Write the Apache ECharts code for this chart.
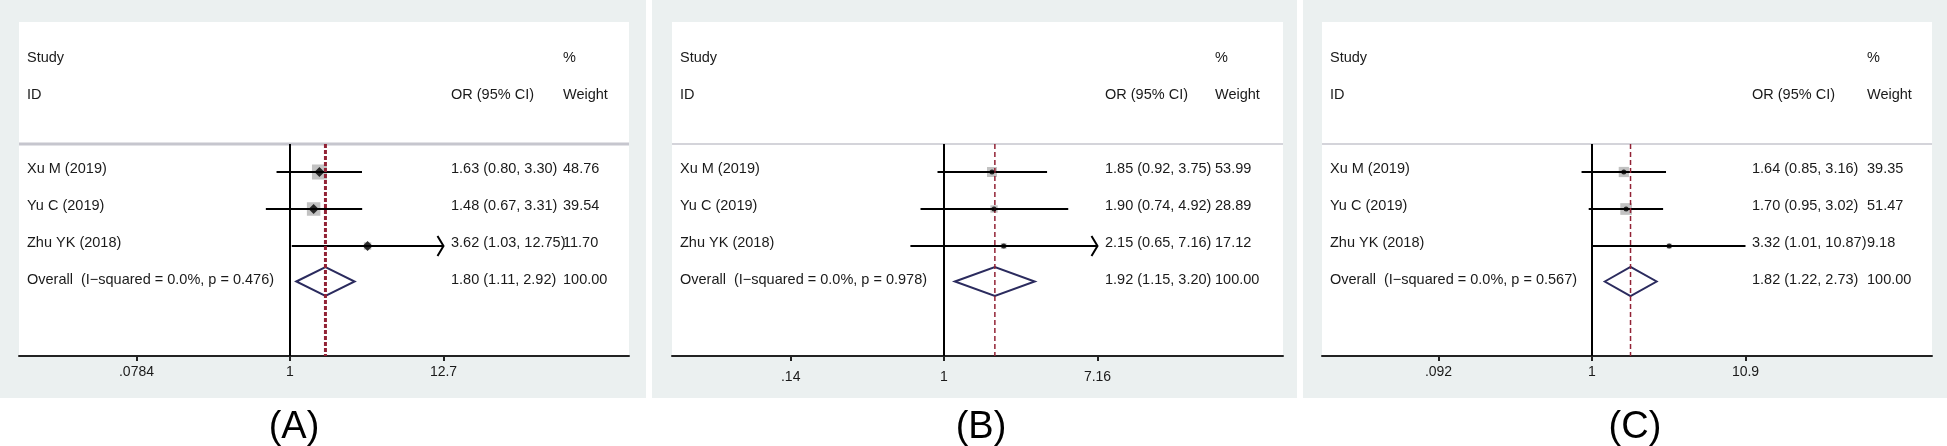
<!DOCTYPE html>
<html>
<head>
<meta charset="utf-8">
<style>
  html, body { margin: 0; padding: 0; background: #fff; }
  #main { width: 1947px; height: 446px; }
</style>
<script src="https://cdn.jsdelivr.net/npm/echarts@6/dist/echarts.min.js"></script>
</head>
<body>
<div id="main"></div>
<script>
// 研究
var studies = ['Xu M (2019)', 'Yu C (2019)', 'Zhu YK (2018)'];
var panelNames = ['(A)', '(B)', '(C)'];

// (A)
var orA = [1.63, 1.48, 3.62];
var lowA = [0.80, 0.67, 1.03];
var highA = [3.30, 3.31, 12.75];
var weightA = [48.76, 39.54, 11.70];
var ticksA = [0.0784, 1, 12.75];
var tickTextA = ['.0784', '1', '12.7'];
var arrowA = [false, false, true];

// (B)
var orB = [1.85, 1.90, 2.15];
var lowB = [0.92, 0.74, 0.65];
var highB = [3.75, 4.92, 7.16];
var weightB = [53.99, 28.89, 17.12];
var ticksB = [0.14, 1, 7.16];
var tickTextB = ['.14', '1', '7.16'];
var arrowB = [false, false, true];

// (C)
var orC = [1.64, 1.70, 3.32];
var lowC = [0.85, 0.95, 1.01];
var highC = [3.16, 3.02, 10.87];
var weightC = [39.35, 51.47, 9.18];
var ticksC = [0.092, 1, 10.87];
var tickTextC = ['.092', '1', '10.9'];
var arrowC = [false, false, false];

// 合并结果
var overallOR = [1.80, 1.92, 1.82];
var overallLow = [1.11, 1.15, 1.22];
var overallHigh = [2.92, 3.20, 2.73];
var iSquared = ['0.0%', '0.0%', '0.0%'];
var pHet = ['0.476', '0.978', '0.567'];

var panelData = [
  {or: orA, low: lowA, high: highA, weight: weightA, ticks: ticksA, tickText: tickTextA, arrow: arrowA},
  {or: orB, low: lowB, high: highB, weight: weightB, ticks: ticksB, tickText: tickTextB, arrow: arrowB},
  {or: orC, low: lowC, high: highC, weight: weightC, ticks: ticksC, tickText: tickTextC, arrow: arrowC}
];

// layout (px)
var layout = [
  {bgLeft: 0, bgRight: 646, left: 19, width: 610, zero: 271, orCol: 432, wCol: 544, sepWidth: 3, refWidth: 3, refDash: [4, 2], marker: 'diamond', markerSize: 10, boxK: 2.15, labelX: 294, labelMargin: 9},
  {bgLeft: 652, bgRight: 1297, left: 672, width: 611, zero: 272, orCol: 433, wCol: 543, sepWidth: 1.5, refWidth: 1.5, refDash: [5, 3], marker: 'circle', markerSize: 5, boxK: 1.36, labelX: 981, labelMargin: 14},
  {bgLeft: 1303, bgRight: 1947, left: 1322, width: 610, zero: 270, orCol: 430, wCol: 545, sepWidth: 1.5, refWidth: 1.5, refDash: [5, 3], marker: 'circle', markerSize: 5, boxK: 1.63, labelX: 1635, labelMargin: 9}
];
var TOP = 22, AXIS_Y = 356, ROW0 = 172, ROW_H = 37, SEP_Y = 144, TICK_SPAN = 153.5, BG_BOTTOM = 398;
var FONT = '"Liberation Sans", Arial, sans-serif';
var TEXT_COLOR = '#1a1a1a';

var yMin = -(ROW0 - TOP) / ROW_H;
var yMax = (AXIS_Y - ROW0) / ROW_H;
var sepRow = -(ROW0 - SEP_Y) / ROW_H;

var chart = echarts.init(document.getElementById('main'));

var grids = [], xAxes = [], yAxes = [], series = [], graphics = [];

function fmt(v) { return v.toFixed(2); }

function textSeries(idx, items, col) {
  return {
    type: 'custom', xAxisIndex: idx, yAxisIndex: idx, silent: true, z: 5,
    data: items.map(function (it) { return [0, it.row]; }),
    renderItem: function (params, api) {
      var it = items[params.dataIndex];
      var p = api.coord([0, api.value(1)]);
      return {
        type: 'text', x: params.coordSys.x + col, y: p[1] - 3,
        style: {
          text: it.text, fill: TEXT_COLOR, font: '14.5px ' + FONT,
          align: 'left', verticalAlign: 'middle', textAlign: 'left', textVerticalAlign: 'middle'
        }
      };
    }
  };
}

panelData.forEach(function (d, i) {
  var lay = layout[i];
  var lnTicks = d.ticks.map(function (t) { return Math.log(t); });
  var L = lnTicks[2];
  var s = TICK_SPAN / L;
  var xMin = -lay.zero / s, xMax = (lay.width - lay.zero) / s;

  // 背景
  graphics.push({type: 'rect', z: -100, shape: {x: lay.bgLeft, y: 0, width: lay.bgRight - lay.bgLeft, height: BG_BOTTOM}, style: {fill: '#ebf0f0'}});
  graphics.push({type: 'rect', z: -99, shape: {x: lay.left, y: TOP, width: lay.width, height: AXIS_Y - TOP}, style: {fill: '#fff'}});
  graphics.push({type: 'text', x: lay.labelX, y: 428, style: {text: panelNames[i], font: '38px ' + FONT, fill: '#000', align: 'center', verticalAlign: 'middle'}});

  grids.push({left: lay.left, top: TOP, width: lay.width, height: AXIS_Y - TOP, containLabel: false});
  xAxes.push({
    gridIndex: i, type: 'value', min: xMin, max: xMax,
    axisLine: {show: true, onZero: false, lineStyle: {color: '#222', width: 2}},
    axisTick: {show: true, customValues: lnTicks, length: 5, lineStyle: {color: '#222', width: 2}},
    axisLabel: {
      customValues: lnTicks, margin: lay.labelMargin, fontSize: 14, fontFamily: FONT, color: TEXT_COLOR,
      formatter: function (v) {
        for (var k = 0; k < lnTicks.length; k++) {
          if (Math.abs(v - lnTicks[k]) < 1e-6) return d.tickText[k];
        }
        return '';
      }
    },
    splitLine: {show: false}
  });
  yAxes.push({gridIndex: i, type: 'value', inverse: true, min: yMin, max: yMax, show: false});

  // 分隔线
  series.push({
    type: 'line', xAxisIndex: i, yAxisIndex: i, symbol: 'none', silent: true,
    data: [[xMin, sepRow], [xMax, sepRow]],
    lineStyle: {color: '#c6c6ce', width: lay.sepWidth}
  });
  // 无效线
  series.push({
    type: 'line', xAxisIndex: i, yAxisIndex: i, symbol: 'none', silent: true,
    data: [[0, sepRow], [0, yMax]],
    lineStyle: {color: '#000', width: 2}
  });
  // 合并效应线
  var lnOverall = Math.log(overallOR[i]);
  series.push({
    type: 'line', xAxisIndex: i, yAxisIndex: i, symbol: 'none', silent: true, z: 4,
    data: [[lnOverall, sepRow], [lnOverall, yMax]],
    lineStyle: {color: '#922235', width: lay.refWidth, type: lay.refDash}
  });

  // 权重方块
  series.push({
    type: 'custom', xAxisIndex: i, yAxisIndex: i, silent: true, z: 2,
    data: d.or.map(function (v, k) { return [Math.log(v), k, d.weight[k]]; }),
    renderItem: function (params, api) {
      var c = api.coord([api.value(0), api.value(1)]);
      var side = lay.boxK * Math.sqrt(api.value(2));
      return {type: 'rect', shape: {x: c[0] - side / 2, y: c[1] - side / 2, width: side, height: side}, style: {fill: '#c2c2c2'}};
    }
  });

  // 置信区间
  series.push({
    type: 'custom', xAxisIndex: i, yAxisIndex: i, silent: true, z: 3,
    data: d.low.map(function (v, k) { return [Math.log(v), Math.log(d.high[k]), k]; }),
    renderItem: function (params, api) {
      var k = params.dataIndex;
      var lo = Math.max(api.value(0), -L), hi = Math.min(api.value(1), L);
      var a = api.coord([lo, api.value(2)]);
      var b = api.coord([hi, api.value(2)]);
      var children = [{type: 'line', shape: {x1: a[0], y1: a[1], x2: b[0], y2: b[1]}, style: {stroke: '#000', lineWidth: 2}}];
      if (d.arrow[k]) {
        children.push({type: 'polyline', shape: {points: [[b[0] - 6, b[1] - 10], [b[0], b[1]], [b[0] - 6, b[1] + 10]]}, style: {stroke: '#000', fill: null, lineWidth: 2}});
      }
      return {type: 'group', children: children};
    }
  });

  // 点估计
  series.push({
    type: 'scatter', xAxisIndex: i, yAxisIndex: i, silent: true, z: 4,
    symbol: lay.marker, symbolSize: lay.markerSize,
    itemStyle: {color: '#000'},
    data: d.or.map(function (v, k) { return [Math.log(v), k]; })
  });

  // 合并菱形
  series.push({
    type: 'custom', xAxisIndex: i, yAxisIndex: i, silent: true, z: 4,
    data: [[Math.log(overallLow[i]), Math.log(overallOR[i]), Math.log(overallHigh[i]), 3]],
    renderItem: function (params, api) {
      var l = api.coord([api.value(0), api.value(3)]);
      var m = api.coord([api.value(1), api.value(3)]);
      var r = api.coord([api.value(2), api.value(3)]);
      var cy = l[1] - 1.5;
      return {
        type: 'polygon',
        shape: {points: [[l[0], cy], [m[0], cy - 14.5], [r[0], cy], [m[0], cy + 14.5]]},
        style: {stroke: '#2b2b5e', fill: null, lineWidth: 2}
      };
    }
  });

  // 文字列
  var left = [{row: -3, text: 'Study'}, {row: -2, text: 'ID'}];
  var orCol = [{row: -2, text: 'OR (95% CI)'}];
  var wCol = [{row: -3, text: '%'}, {row: -2, text: 'Weight'}];
  studies.forEach(function (name, k) {
    left.push({row: k, text: name});
    orCol.push({row: k, text: fmt(d.or[k]) + ' (' + fmt(d.low[k]) + ', ' + fmt(d.high[k]) + ')'});
    wCol.push({row: k, text: fmt(d.weight[k])});
  });
  left.push({row: 3, text: 'Overall  (I\u2212squared = ' + iSquared[i] + ', p = ' + pHet[i] + ')'});
  orCol.push({row: 3, text: fmt(overallOR[i]) + ' (' + fmt(overallLow[i]) + ', ' + fmt(overallHigh[i]) + ')'});
  wCol.push({row: 3, text: '100.00'});
  series.push(textSeries(i, left, 8));
  series.push(textSeries(i, orCol, lay.orCol));
  series.push(textSeries(i, wCol, lay.wCol));
});

chart.setOption({
  animation: false,
  backgroundColor: '#fff',
  textStyle: {fontFamily: FONT},
  graphic: graphics,
  grid: grids,
  xAxis: xAxes,
  yAxis: yAxes,
  series: series
});
</script>
</body>
</html>
